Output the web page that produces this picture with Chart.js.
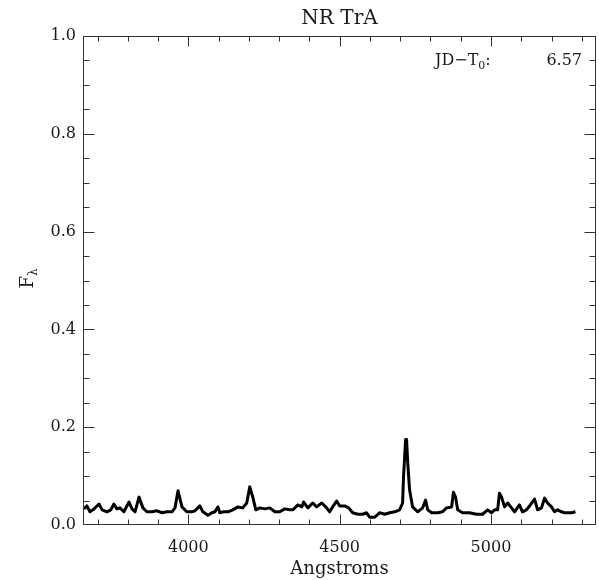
<!DOCTYPE html>
<html>
<head>
<meta charset="utf-8">
<script src="https://cdn.jsdelivr.net/npm/chart.js@4.4.1/dist/chart.umd.min.js"></script>
<style>
  body { margin: 0; background: #fff; }
  #wrap { width: 599px; height: 580px; }
</style>
</head>
<body>
<div id="wrap"><canvas id="spectrum" width="599" height="580"></canvas></div>
<script>
// spectrum of NR TrA
const wavelength = [3655,3665,3675,3685,3705,3715,3731,3744,3754,3764,3774,3787,3804,3814,3824,3837,3850,3863,3880,3896,
  3913,3929,3946,3956,3966,3979,3995,4012,4022,4038,4048,4065,4078,4088,4098,4104,4117,4131,4147,4164,
  4180,4193,4203,4213,4223,4236,4253,4269,4286,4302,4319,4335,4345,4362,4375,4381,4395,4411,4424,4441,
  4457,4467,4477,4490,4500,4517,4530,4543,4560,4576,4589,4599,4616,4632,4649,4665,4682,4698,4708,4711,
  4718,4721,4725,4731,4741,4758,4774,4784,4791,4804,4824,4840,4853,4870,4876,4883,4890,4906,4929,4952,
  4972,4989,5002,5012,5022,5028,5035,5045,5055,5068,5078,5094,5104,5117,5130,5144,5154,5167,5177,5187,
  5200,5210,5220,5233,5243,5253,5266,5279];
const flux = [.033,.039,.027,.031,.043,.031,.027,.031,.043,.033,.035,.027,.047,.033,.027,.057,.035,.027,.027,.029,
  .025,.027,.027,.035,.070,.037,.027,.027,.029,.039,.027,.020,.025,.027,.037,.025,.027,.027,.031,.037,
  .035,.045,.078,.057,.031,.035,.033,.035,.027,.027,.033,.031,.031,.041,.037,.047,.035,.045,.037,.045,
  .035,.027,.037,.049,.039,.039,.035,.025,.022,.022,.025,.016,.016,.025,.022,.025,.027,.031,.045,.098,
  .175,.175,.127,.072,.037,.027,.035,.051,.031,.025,.025,.027,.035,.037,.067,.057,.031,.025,.025,.022,
  .022,.031,.025,.031,.031,.065,.057,.037,.045,.035,.027,.041,.027,.031,.041,.053,.031,.035,.055,.045,
  .037,.027,.031,.027,.025,.025,.025,.027];

const xMajorTicks = [4000, 4500, 5000];
const yMajorTicks = [0, 0.2, 0.4, 0.6, 0.8, 1.0];
const xMinorStep = 100;
const yMinorStep = 0.05;

const serif = '"DejaVu Serif", "Liberation Serif", serif';
const textColor = '#1a1a1a';

// IDL-style inward ticks on all four sides plus the box and the JD label
const idlFrame = {
  id: 'idlFrame',
  afterDatasetsDraw(chart) {
    const {ctx, chartArea: a, scales: {x, y}} = chart;
    ctx.save();
    ctx.strokeStyle = '#333';
    ctx.lineWidth = 1;
    const L = Math.round(a.left) + 0.5, R = Math.round(a.right) - 0.5;
    const T = Math.round(a.top) + 0.5, B = Math.round(a.bottom) - 0.5;
    ctx.strokeRect(L, T, R - L, B - T);
    ctx.beginPath();
    for (let v = Math.ceil(x.min / xMinorStep) * xMinorStep; v <= x.max; v += xMinorStep) {
      const len = v % 500 === 0 ? 10 : 5;
      const px = Math.round(x.getPixelForValue(v)) + 0.5;
      ctx.moveTo(px, B); ctx.lineTo(px, B - len);
      ctx.moveTo(px, T); ctx.lineTo(px, T + len);
    }
    for (let i = 1; i < 20; i++) {
      const len = i % 4 === 0 ? 11 : 6;
      const py = Math.round(y.getPixelForValue(i * yMinorStep)) + 0.5;
      ctx.moveTo(L, py); ctx.lineTo(L + len, py);
      ctx.moveTo(R, py); ctx.lineTo(R - len, py);
    }
    ctx.stroke();

    // JD-T0 annotation
    ctx.fillStyle = textColor;
    ctx.textBaseline = 'alphabetic';
    ctx.font = '16px ' + serif;
    ctx.textAlign = 'left';
    let tx = a.right - 161, ty = a.top + 29;
    ctx.fillText('JD\u2212T', tx, ty);
    tx += ctx.measureText('JD\u2212T').width;
    ctx.font = '11px ' + serif;
    ctx.fillText('0', tx, ty + 4);
    tx += ctx.measureText('0').width;
    ctx.font = '16px ' + serif;
    ctx.fillText(':', tx, ty);
    ctx.textAlign = 'right';
    ctx.fillText('6.57', a.right - 14, ty);

    // y axis title F_lambda
    ctx.save();
    ctx.translate(33, (a.top + a.bottom) / 2);
    ctx.rotate(-Math.PI / 2);
    ctx.textAlign = 'left';
    ctx.font = '18px ' + serif;
    ctx.fillText('F', -8, 0);
    const fw = ctx.measureText('F').width;
    ctx.font = '12px ' + serif;
    ctx.fillText('\u03bb', -8 + fw, 4);
    ctx.restore();
    ctx.restore();
  }
};

new Chart(document.getElementById('spectrum'), {
  type: 'line',
  data: {
    datasets: [{
      data: wavelength.map((w, i) => ({x: w, y: flux[i]})),
      borderColor: '#000',
      borderWidth: 3,
      borderJoinStyle: 'round',
      pointRadius: 0,
      tension: 0
    }]
  },
  options: {
    responsive: false,
    animation: false,
    layout: {padding: {left: 0, right: 3, top: 0, bottom: 0}},
    plugins: {
      legend: {display: false},
      tooltip: {enabled: false},
      title: {
        display: true,
        fullSize: false,
        text: 'NR TrA',
        color: textColor,
        font: {family: serif, size: 20, weight: 'normal'},
        padding: {top: 7, bottom: 5}
      }
    },
    scales: {
      x: {
        type: 'linear',
        min: 3652,
        max: 5347,
        afterBuildTicks: s => { s.ticks = xMajorTicks.map(v => ({value: v})); },
        afterFit: s => { s.height = 55; },
        grid: {display: false, drawTicks: false},
        border: {display: false},
        ticks: {
          color: textColor,
          font: {family: serif, size: 16},
          padding: 13,
          maxRotation: 0,
          autoSkip: false,
          callback: v => String(v)
        },
        title: {
          display: true,
          text: 'Angstroms',
          color: textColor,
          font: {family: serif, size: 18},
          padding: {top: 0, bottom: 0}
        }
      },
      y: {
        min: 0,
        max: 1,
        afterBuildTicks: s => { s.ticks = yMajorTicks.map(v => ({value: v})); },
        afterFit: s => { s.width = 83; },
        grid: {display: false, drawTicks: false},
        border: {display: false},
        ticks: {
          color: textColor,
          font: {family: serif, size: 16},
          padding: 7,
          callback: v => v.toFixed(1)
        }
      }
    }
  },
  plugins: [idlFrame]
});
</script>
</body>
</html>
